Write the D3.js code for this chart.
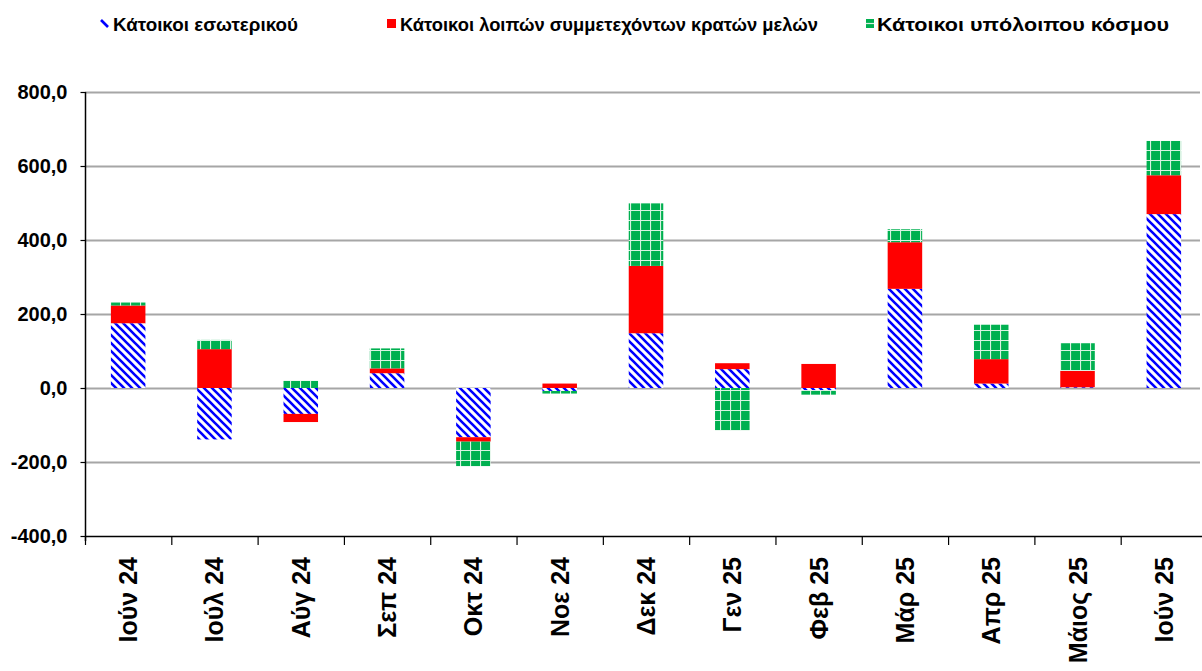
<!DOCTYPE html>
<html><head><meta charset="utf-8">
<script src="https://cdn.jsdelivr.net/npm/d3@7"></script>
<style>body{margin:0;background:#fff}svg{display:block}</style>
</head><body>
<svg id="c" width="1202" height="671"></svg>
<script>
const categories = ["Ιούν 24","Ιούλ 24","Αύγ 24","Σεπ 24","Οκτ 24","Νοε 24","Δεκ 24","Γεν 25","Φεβ 25","Μάρ 25","Απρ 25","Μάιος 25","Ιούν 25"];
const seriesNames = ["Κάτοικοι εσωτερικού","Κάτοικοι λοιπών συμμετεχόντων κρατών μελών","Κάτοικοι υπόλοιπου κόσμου"];
const domestic = [175, -139, -70, 40, -133, -8, 148, 51, -6, 268, 12, 2, 470];
const otherEuro = [48, 105, -22, 13, -12, 12, 182, 16, 65, 126, 66, 44, 105];
const restWorld = [8, 25, 20, 54, -66, -7, 169, -115, -12, 35, 93, 75, 93];
const yTicks = [-400, -200, 0, 200, 400, 600, 800];

const svg = d3.select("#c");
const defs = svg.append("defs");
// blue diagonal hatch
const ph = defs.append("pattern").attr("id","hatch").attr("patternUnits","userSpaceOnUse")
  .attr("width",8).attr("height",8);
ph.append("rect").attr("width",8).attr("height",8).attr("fill","#fff");
ph.append("path").attr("d","M-2,-2 L10,10 M-2,6 L2,10 M6,-2 L10,2")
  .attr("stroke","#0000ff").attr("stroke-width",2.6);
// green grid
const pg = defs.append("pattern").attr("id","grid").attr("patternUnits","userSpaceOnUse")
  .attr("width",10).attr("height",10);
pg.append("rect").attr("width",10).attr("height",10).attr("fill","#00b050");
pg.append("path").attr("d","M0.5,0 V10 M0,0.5 H10").attr("stroke","#d9f2e2").attr("stroke-width",1.2);

const fills = ["url(#hatch)", "#ff0000", "url(#grid)"];

const mLeft = 85, mTop = 92, mBottom = 536;
const x = d3.scaleBand().domain(categories).range([mLeft, 1207]).paddingInner(0.6).paddingOuter(0.3);
const y = d3.scaleLinear().domain([-400, 800]).range([mBottom, mTop]);

const loc = d3.formatLocale({decimal:",", thousands:".", grouping:[3], currency:["","€"], minus:"-"});
const fmt = loc.format(".1f");

// gridlines
svg.append("g").selectAll("line").data(yTicks.filter(d => d > -400)).join("line")
  .attr("x1", mLeft).attr("x2", 1200)
  .attr("y1", d => Math.round(y(d)) + 0.5).attr("y2", d => Math.round(y(d)) + 0.5)
  .attr("stroke", "#a6a6a6").attr("stroke-width", 1.8);

// bars
const rows = categories.map((c, i) => ({cat: c, a: domestic[i], b: otherEuro[i], c2: restWorld[i]}));
const stack = d3.stack().keys(["a","b","c2"]).offset(d3.stackOffsetDiverging);
const stacked = stack(rows);
svg.append("g").selectAll("g").data(stacked).join("g")
  .attr("fill", (d, i) => fills[i])
  .selectAll("rect").data(d => d).join("rect")
  .attr("x", d => x(d.data.cat))
  .attr("width", x.bandwidth())
  .attr("y", d => y(Math.max(d[0], d[1])))
  .attr("height", d => Math.abs(y(d[0]) - y(d[1])));

// y axis
const yAxis = d3.axisLeft(y).tickValues(yTicks).tickSize(5).tickFormat(d => fmt(d));
const gy = svg.append("g").attr("transform", `translate(${mLeft + 0.5},0)`).call(yAxis);
gy.select(".domain").attr("stroke", "#000").attr("stroke-width", 1.5).attr("d", `M0,${mTop} V${mBottom + 5}`);
gy.selectAll(".tick line").attr("stroke", "#000").attr("stroke-width", 1.2);
gy.selectAll(".tick text").attr("x", -18).attr("font-family", "'Liberation Sans', Arial, sans-serif")
  .attr("font-weight", "bold").attr("font-size", 20).attr("fill", "#000");

// x axis line and ticks at boundaries
svg.append("line").attr("x1", mLeft).attr("x2", 1202).attr("y1", mBottom + 0.5).attr("y2", mBottom + 0.5)
  .attr("stroke", "#000").attr("stroke-width", 1.5);
const step = x.step();
svg.append("g").selectAll("line").data(d3.range(categories.length + 1)).join("line")
  .attr("x1", i => x(categories[0]) - x.paddingOuter() * step + i * step + 0.5)
  .attr("x2", i => x(categories[0]) - x.paddingOuter() * step + i * step + 0.5)
  .attr("y1", mBottom).attr("y2", mBottom + 9)
  .attr("stroke", "#000").attr("stroke-width", 1.2);

// x labels
svg.append("g").selectAll("text").data(categories).join("text")
  .attr("transform", d => `translate(${x(d) + x.bandwidth() / 2 + 9},557) rotate(-90)`)
  .attr("text-anchor", "end")
  .attr("font-family", "'Liberation Sans', Arial, sans-serif")
  .attr("font-weight", "bold").attr("font-size", 25).attr("fill", "#000")
  .text(d => d);

// legend
const lg = svg.append("g").attr("font-family", "'Liberation Sans', Arial, sans-serif")
  .attr("font-weight", "bold").attr("font-size", 18.5).attr("fill", "#000");
const legendX = [100, 387, 866];
const textX = [113, 400, 877];
const textW = [185, 418, 292];
lg.append("line").attr("x1", legendX[0] + 1).attr("y1", 20).attr("x2", legendX[0] + 8).attr("y2", 27)
  .attr("stroke", "#0000ff").attr("stroke-width", 2.6);
lg.append("rect").attr("x", legendX[1]).attr("y", 19).attr("width", 9).attr("height", 9).attr("fill", "#ff0000");
lg.append("rect").attr("x", legendX[2]).attr("y", 19).attr("width", 8).attr("height", 9).attr("fill", "#00b050");
lg.append("line").attr("x1", legendX[2]).attr("x2", legendX[2] + 8).attr("y1", 23.5).attr("y2", 23.5)
  .attr("stroke", "#d9f2e2").attr("stroke-width", 1.2);
lg.selectAll("text").data(seriesNames).join("text")
  .attr("x", (d, i) => textX[i]).attr("y", 31)
  .attr("textLength", (d, i) => textW[i]).attr("lengthAdjust", "spacingAndGlyphs")
  .text(d => d);
</script>
</body></html>
